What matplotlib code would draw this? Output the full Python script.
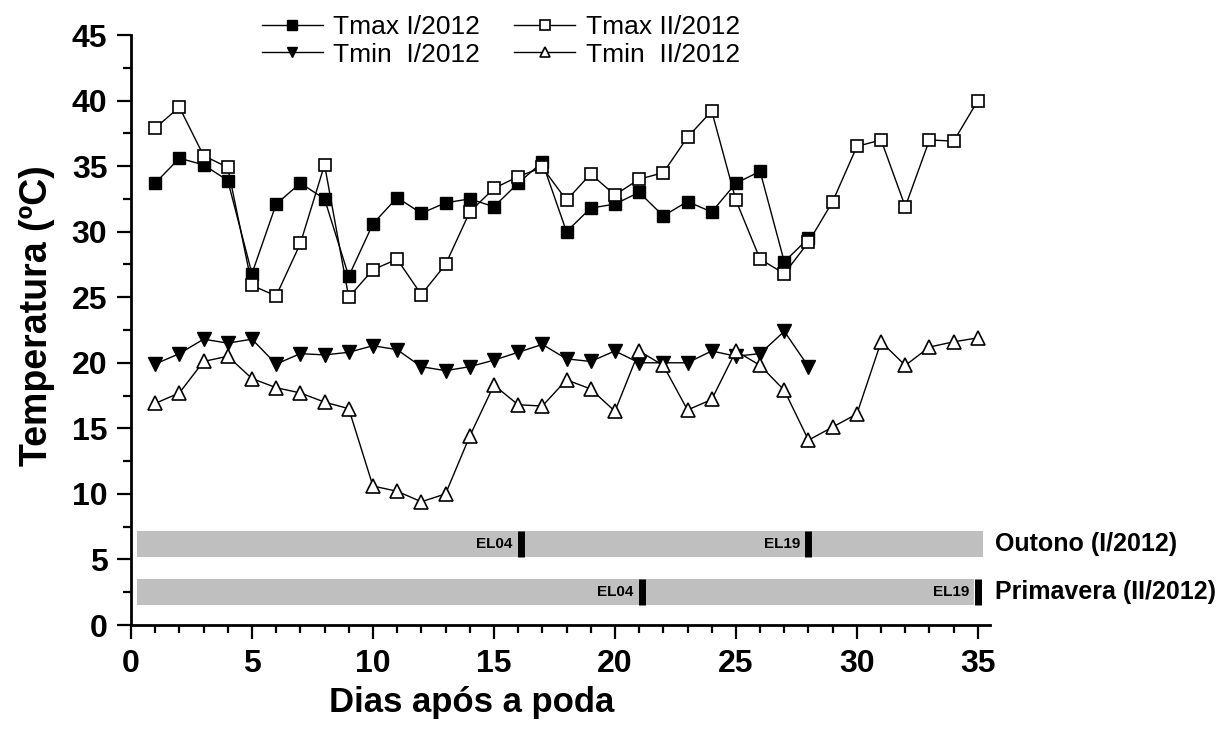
import numpy as np
import matplotlib
matplotlib.use("Agg")
import matplotlib.pyplot as plt
from matplotlib.ticker import MultipleLocator

plt.rcParams['font.family'] = ['Liberation Sans', 'DejaVu Sans']

days = np.arange(1, 36)
tmax_1 = [33.7, 35.6, 35.1, 33.9, 26.8, 32.1, 33.7, 32.5, 26.6, 30.6, 32.6, 31.4, 32.2, 32.5,
          31.9, 33.7, 35.3, 30.0, 31.8, 32.1, 33.0, 31.2, 32.3, 31.5, 33.7, 34.6, 27.7, 29.5]
tmax_2 = [37.9, 39.5, 35.8, 34.9, 25.9, 25.1, 29.1, 35.1, 25.0, 27.1, 27.9, 25.2, 27.5, 31.5,
          33.3, 34.2, 34.9, 32.4, 34.4, 32.8, 34.0, 34.5, 37.2, 39.2, 32.4, 27.9, 26.8, 29.2,
          32.3, 36.5, 37.0, 31.9, 37.0, 36.9, 40.0]
tmin_1 = [19.9, 20.7, 21.8, 21.5, 21.8, 19.9, 20.7, 20.6, 20.8, 21.3, 21.0, 19.7, 19.4, 19.7,
          20.2, 20.8, 21.4, 20.3, 20.1, 20.9, 20.0, 20.0, 20.0, 20.9, 20.5, 20.7, 22.4, 19.7]
tmin_2 = [16.9, 17.7, 20.1, 20.5, 18.8, 18.1, 17.7, 17.0, 16.5, 10.6, 10.2, 9.4, 10.0, 14.4,
          18.3, 16.8, 16.7, 18.7, 18.0, 16.3, 20.9, 19.8, 16.4, 17.2, 20.9, 19.8, 17.9, 14.1,
          15.1, 16.1, 21.6, 19.8, 21.2, 21.6, 21.9]

# phenology bars (season, y range, x range, EL04 day, EL19 day)
seasons = ["Outono (I/2012)", "Primavera (II/2012)"]
bar_y = [(5.2, 7.2), (1.5, 3.5)]
bar_x = [(0.25, 35.2), (0.25, 34.85)]
el04 = [16.1, 21.1]
el19 = [28.0, 35.0]

fig = plt.figure(figsize=(12.24, 7.4), dpi=100)
ax = fig.add_axes([0.107, 0.1554, 0.7018, 0.7973])

h1, = ax.plot(days[:len(tmax_1)], tmax_1, '-s', color='k', lw=1, ms=9, mfc='k', mec='k', label='Tmax I/2012')
h2, = ax.plot(days[:len(tmax_2)], tmax_2, '-s', color='k', lw=1, ms=9, mfc='white', mec='k', mew=1.2, label='Tmax II/2012')
h3, = ax.plot(days[:len(tmin_1)], tmin_1, '-v', color='k', lw=1, ms=10, mfc='k', mec='k', label='Tmin  I/2012')
h4, = ax.plot(days[:len(tmin_2)], tmin_2, '-^', color='k', lw=1, ms=10, mfc='white', mec='k', mew=1.2, label='Tmin  II/2012')

for i in range(2):
    y0, y1 = bar_y[i]
    x0, x1 = bar_x[i]
    ax.fill_between([x0, x1], y0, y1, color='#bfbfbf', lw=0, zorder=1, clip_on=False)
    for d, name in [(el04[i], 'EL04'), (el19[i], 'EL19')]:
        ax.plot([d, d], [y0, y1], color='k', lw=5, solid_capstyle='butt', zorder=3, clip_on=False)
        ax.text(d - 0.35, (y0 + y1) / 2, name, ha='right', va='center', fontsize=11, fontweight='bold', zorder=3)
    ax.text(35.7, (y0 + y1) / 2, seasons[i], ha='left', va='center', fontsize=18, fontweight='bold', clip_on=False)

ax.set_xlim(0, 35.5)
ax.set_ylim(0, 45)
ax.xaxis.set_major_locator(MultipleLocator(5))
ax.xaxis.set_minor_locator(MultipleLocator(1))
ax.yaxis.set_major_locator(MultipleLocator(5))
ax.yaxis.set_minor_locator(MultipleLocator(2.5))
for s in ['top', 'right']:
    ax.spines[s].set_visible(False)
for s in ['left', 'bottom']:
    ax.spines[s].set_linewidth(2)
ax.tick_params(which='major', direction='out', length=10, width=1.6, pad=7, labelsize=23)
ax.tick_params(which='minor', direction='out', length=5.5, width=1.6)
for lab in ax.get_xticklabels() + ax.get_yticklabels():
    lab.set_fontweight('bold')

ax.set_xlabel('Dias após a poda', fontsize=25, fontweight='bold', labelpad=5)
ax.set_ylabel('Temperatura (ºC)', fontsize=27, fontweight='bold', labelpad=12)
ax.xaxis.label.set_x(0.396)
ax.yaxis.label.set_y(0.525)

fig.legend([h1, h3, h2, h4], [h1.get_label(), h3.get_label(), h2.get_label(), h4.get_label()],
           loc='upper left', bbox_to_anchor=(0.199, 1.005), ncol=2, frameon=False,
           fontsize=19, handlelength=2.3, handletextpad=0.4, columnspacing=1.3,
           labelspacing=0.15, markerscale=0.75, borderaxespad=0.3)

fig.savefig('out.png', dpi=100)
